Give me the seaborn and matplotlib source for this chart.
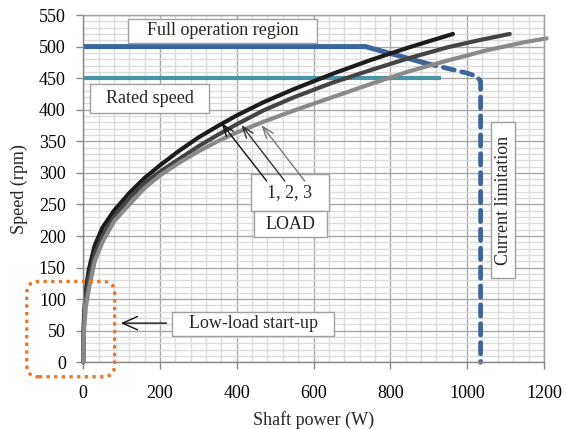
import matplotlib
matplotlib.use("Agg")
import matplotlib.pyplot as plt
import pandas as pd
import seaborn as sns
from matplotlib.patches import Rectangle, FancyBboxPatch
from matplotlib.ticker import MultipleLocator
from matplotlib.transforms import IdentityTransform

# Speed-power characteristics for the three load settings
power_1 = [0, 1, 3, 7, 15, 30, 50, 80, 120, 160, 200, 250, 300, 350, 400, 470, 550, 650, 750, 850, 963]
speed_1 = [0, 55, 85, 115, 148, 185, 213, 240, 268, 292, 312, 335, 356, 374, 391, 412, 433, 457, 479, 499, 520]

power_2 = [0, 1, 3, 7, 15, 30, 50, 80, 120, 160, 200, 250, 300, 350, 400, 470, 550, 650, 750, 850, 950, 1030, 1111]
speed_2 = [0, 45, 72, 102, 135, 172, 200, 230, 260, 284, 302, 322, 342, 360, 377, 399, 420, 443, 463, 482, 499, 510, 520]

power_3 = [0, 1, 3, 7, 15, 30, 50, 80, 120, 160, 200, 250, 300, 350, 400, 470, 550, 650, 750, 850, 950, 1050, 1150, 1207]
speed_3 = [0, 35, 58, 88, 117, 160, 190, 223, 250, 276, 296, 316, 334, 350, 364, 381, 399, 420, 441, 461, 478, 494, 507, 513]

# Operating envelope
full_power = [0, 735, 890]
full_speed = [500, 500, 474]
limit_power = [890, 1000, 1025, 1035, 1035]
limit_speed = [474, 458, 453, 445, 0]
rated_power = [0, 931]
rated_speed = [450, 450]

x_ticks = [0, 200, 400, 600, 800, 1000, 1200]
y_ticks = [0, 50, 100, 150, 200, 250, 300, 350, 400, 450, 500, 550]

sns.set_theme(style="white")
plt.rcParams["font.family"] = ["Liberation Serif", "DejaVu Serif"]

fig = plt.figure(figsize=(5.66, 4.29), dpi=100)
ax = fig.add_axes([0.147, 0.1555, 0.814, 0.8095])

ax.set_xlim(0, 1200)
ax.set_ylim(0, 550)
ax.set_xticks(x_ticks)
ax.set_yticks(y_ticks)
ax.xaxis.set_minor_locator(MultipleLocator(40))
ax.yaxis.set_minor_locator(MultipleLocator(10))
ax.set_axisbelow(True)
ax.grid(which="minor", color="#dcdcdc", lw=1.0)
ax.grid(which="major", color="#a8a8a8", lw=1.0)
for side, sp in ax.spines.items():
    sp.set_visible(True)
    sp.set_color("#a0a0a0" if side in ("top", "right") else "#888888")
    sp.set_linewidth(1.0)
ax.tick_params(which="major", direction="out", length=5, width=1, color="#888888",
               labelsize=13, labelcolor="black", left=True, bottom=True)
ax.tick_params(axis="x", which="major", pad=11)
ax.tick_params(axis="y", which="major", pad=7.5)
ax.tick_params(which="minor", length=0)

# Envelope lines
sns.lineplot(x=rated_power, y=rated_speed, ax=ax, color="#4a94a4", lw=3.0,
             solid_capstyle="butt", legend=False)
sns.lineplot(x=full_power, y=full_speed, ax=ax, color="#3c659b", lw=3.6,
             solid_capstyle="butt", legend=False, sort=False)
ax.plot(limit_power, limit_speed, color="#3c659b", lw=3.4,
        linestyle=(0, (2.4, 1.6)), dash_capstyle="round", clip_on=False)

# Load curves
loads = pd.concat([
    pd.DataFrame({"power": power_1, "speed": speed_1, "load": "1"}),
    pd.DataFrame({"power": power_2, "speed": speed_2, "load": "2"}),
    pd.DataFrame({"power": power_3, "speed": speed_3, "load": "3"}),
])
sns.lineplot(data=loads, x="power", y="speed", hue="load", sort=False, estimator=None,
             palette={"1": "#1c1c1c", "2": "#444444", "3": "#8a8a8a"},
             lw=3.0, ax=ax, legend=False, clip_on=False)

ax.set_xlabel("Shaft power (W)", fontsize=13, labelpad=7)
ax.set_ylabel("Speed (rpm)", fontsize=13, labelpad=8)


def label_box(x0, x1, y0, y1, text, rotation=0):
    ax.add_patch(Rectangle((x0, y0), x1 - x0, y1 - y0, fc="white", ec="#a0a0a0",
                           lw=1.0, zorder=5, clip_on=False))
    ax.text((x0 + x1) / 2, (y0 + y1) / 2, text, ha="center", va="center",
            rotation=rotation, fontsize=13, zorder=6)


label_box(116, 609, 506, 544, "Full operation region")
label_box(19, 328, 395, 441, "Rated speed")
label_box(436, 639, 240, 298, "1, 2, 3")
label_box(445, 634, 198, 239, "LOAD")
label_box(1063, 1124, 133, 380, "Current limitation", rotation=90)
label_box(232, 653, 42, 80, "Low-load start-up")

# Pointers from the load label to each curve
arrow_kw = dict(arrowstyle="->,head_length=0.7,head_width=0.25", lw=1.0,
                shrinkA=0, shrinkB=0)
ax.annotate("", xy=(360, 379), xytext=(478, 287),
            arrowprops=dict(color="#111111", **arrow_kw), zorder=7)
ax.annotate("", xy=(412, 376), xytext=(525, 287),
            arrowprops=dict(color="#333333", **arrow_kw), zorder=7)
ax.annotate("", xy=(464, 376), xytext=(577, 287),
            arrowprops=dict(color="#777777", **arrow_kw), zorder=7)
ax.annotate("", xy=(98, 62), xytext=(217, 62),
            arrowprops=dict(arrowstyle="->,head_length=0.9,head_width=0.4", lw=1.0,
                            color="#111111", shrinkA=0, shrinkB=0), zorder=7)

# Dotted rounded frame around the start-up zone (drawn in pixel space)
fig.canvas.draw()
(px0, py0), (px1, py1) = ax.transData.transform([(-147, -23), (82, 128)])
frame = FancyBboxPatch((px0, py0), px1 - px0, py1 - py0,
                       boxstyle="round,pad=0,rounding_size=12",
                       transform=IdentityTransform(), fill=False,
                       ec="#e8782a", lw=2.4, linestyle=(0, (1, 1.3)), zorder=8)
fig.patches.append(frame)
frame.set_figure(fig)

fig.savefig("out.png", dpi=100)
